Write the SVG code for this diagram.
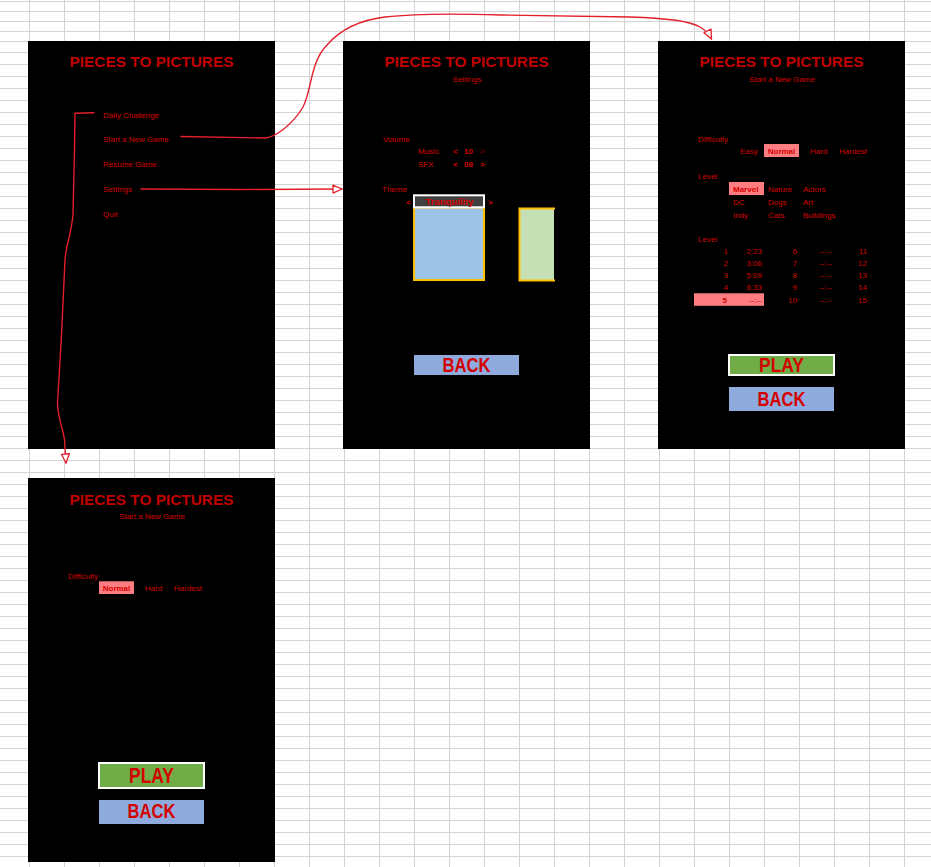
<svg xmlns="http://www.w3.org/2000/svg" width="931" height="867" viewBox="0 0 931 867">
<style>
.panel{fill:#000}
.title{font-family:"Liberation Sans",Arial,sans-serif;font-weight:bold;font-size:15.5px;fill:#c00000;text-anchor:middle}
.t{font-family:"Liberation Sans",Arial,sans-serif;font-size:8px;fill:#d40000}
.b{font-weight:bold}
.m{text-anchor:middle}
.e{text-anchor:end}
.dim{fill:#6b0000}
.hl{fill:#ff7c80}
.btn{font-family:"Liberation Sans",Arial,sans-serif;font-weight:bold;font-size:20px;fill:#d40000;text-anchor:middle}
.conn{fill:none;stroke:#e41e2a;stroke-width:1.4;stroke-linecap:round;stroke-linejoin:round}
</style>
<defs>
<pattern id="g1" patternUnits="userSpaceOnUse" x="29" y="52" width="35" height="12">
<path d="M0,0.5H35M0.5,0V12" stroke="#d4d4d4" stroke-width="1" fill="none"/>
</pattern>
<pattern id="g0" patternUnits="userSpaceOnUse" x="29" y="1" width="35" height="10">
<path d="M0,0.5H35M0.5,0V10" stroke="#d4d4d4" stroke-width="1" fill="none"/>
</pattern>
<marker id="ah" markerUnits="userSpaceOnUse" markerWidth="12" markerHeight="12" refX="9" refY="4" orient="auto" viewBox="-1 -1 12 10">
<path d="M0,0L9,4L0,8Z" fill="#fff" stroke="#e41e2a" stroke-width="1.3" stroke-linejoin="round"/>
</marker>
</defs>
<rect width="931" height="867" fill="#fff"/>
<rect x="0" y="0" width="931" height="47" fill="url(#g0)"/>
<rect x="0" y="47" width="931" height="820" fill="url(#g1)"/>

<g id="main-menu">
<rect class="panel" x="28" y="41" width="247" height="408"/>
<text class="title" x="151.5" y="66.5" textLength="164" lengthAdjust="spacingAndGlyphs">PIECES TO PICTURES</text>
<text class="t" x="103" y="118">Daily Challenge</text>
<text class="t" x="103" y="142">Start a New Game</text>
<text class="t" x="103" y="167">Resume Game</text>
<text class="t" x="103" y="192">Settings</text>
<text class="t" x="103" y="217">Quit</text>
</g>

<g id="settings">
<rect class="panel" x="343" y="41" width="247" height="408"/>
<text class="title" x="466.5" y="66.5" textLength="164" lengthAdjust="spacingAndGlyphs">PIECES TO PICTURES</text>
<text class="t m" x="467" y="82">Settings</text>
<text class="t" x="383" y="142">Volume</text>
<text class="t" x="418" y="154">Music</text>
<text class="t b" x="453" y="154">&lt;</text>
<text class="t b" x="464" y="154">10</text>
<text class="t b dim" x="480" y="154">&gt;</text>
<text class="t" x="418" y="167">SFX</text>
<text class="t b" x="453" y="167">&lt;</text>
<text class="t b" x="464" y="167">08</text>
<text class="t b" x="480" y="167">&gt;</text>
<text class="t" x="382" y="192">Theme</text>
<text class="t b" x="406" y="205">&lt;</text>
<text class="t b" x="488" y="205">&gt;</text>
<rect x="414" y="207.5" width="70" height="72.5" fill="#9dc3e6" stroke="#ffc000" stroke-width="2"/>
<rect x="414" y="195.3" width="70" height="12" fill="#404040" stroke="#fff" stroke-width="2"/>
<text class="t b m" x="449.5" y="205" style="font-size:9px" textLength="48" lengthAdjust="spacingAndGlyphs">Tranquility</text>
<rect x="519.5" y="208.5" width="34.5" height="72" fill="#c5e0b4"/>
<path d="M555,208.5H519.5V280.5H555" fill="none" stroke="#ffc000" stroke-width="2"/>
<rect x="414" y="355" width="105" height="20" fill="#8faadc"/>
<text class="btn" x="466.5" y="371.5" textLength="48" lengthAdjust="spacingAndGlyphs">BACK</text>
</g>

<g id="new-game">
<rect class="panel" x="658" y="41" width="247" height="408"/>
<text class="title" x="781.5" y="66.5" textLength="164" lengthAdjust="spacingAndGlyphs">PIECES TO PICTURES</text>
<text class="t m" x="782" y="82">Start a New Game</text>
<text class="t" x="698" y="142">Difficulty</text>
<text class="t" x="740" y="154">Easy</text>
<rect class="hl" x="764" y="144" width="35" height="13"/>
<text class="t b m" x="781.5" y="154">Normal</text>
<text class="t" x="810" y="154">Hard</text>
<text class="t" x="839" y="154">Hardest</text>
<text class="t" x="698" y="179">Level</text>
<rect class="hl" x="729" y="182" width="35" height="13"/>
<text class="t b" x="733" y="192">Marvel</text>
<text class="t" x="768" y="192">Nature</text>
<text class="t" x="803" y="192">Actors</text>
<text class="t" x="733" y="205">DC</text>
<text class="t" x="768" y="205">Dogs</text>
<text class="t" x="803" y="205">Art</text>
<text class="t" x="733" y="218">Indy</text>
<text class="t" x="768" y="218">Cats</text>
<text class="t" x="803" y="218">Buildings</text>
<text class="t" x="698" y="242">Level</text>
<rect class="hl" x="694" y="293.3" width="70" height="12.5"/>
<g class="t">
<text class="t e" x="728" y="253.5">1</text><text class="t e" x="762" y="253.5">2:23</text><text class="t e" x="797" y="253.5">6</text><text class="t" x="819" y="253.5">--:--</text><text class="t e" x="867" y="253.5">11</text>
<text class="t e" x="728" y="265.7">2</text><text class="t e" x="762" y="265.7">3:06</text><text class="t e" x="797" y="265.7">7</text><text class="t" x="819" y="265.7">--:--</text><text class="t e" x="867" y="265.7">12</text>
<text class="t e" x="728" y="278">3</text><text class="t e" x="762" y="278">5:09</text><text class="t e" x="797" y="278">8</text><text class="t" x="819" y="278">--:--</text><text class="t e" x="867" y="278">13</text>
<text class="t e" x="728" y="290.3">4</text><text class="t e" x="762" y="290.3">6:33</text><text class="t e" x="797" y="290.3">9</text><text class="t" x="819" y="290.3">--:--</text><text class="t e" x="867" y="290.3">14</text>
<text class="t e b" x="727" y="302.5">5</text><text class="t e" x="762" y="302.5">--:--</text><text class="t e" x="797" y="302.5">10</text><text class="t" x="819" y="302.5">--:--</text><text class="t e" x="867" y="302.5">15</text>
</g>
<rect x="729" y="355" width="105" height="20" fill="#70ad47" stroke="#fff" stroke-width="2"/>
<text class="btn" x="781.5" y="372" textLength="45" lengthAdjust="spacingAndGlyphs">PLAY</text>
<rect x="729" y="387" width="105" height="24" fill="#8faadc"/>
<text class="btn" x="781.5" y="405.5" textLength="48" lengthAdjust="spacingAndGlyphs">BACK</text>
</g>

<g id="daily-challenge">
<rect class="panel" x="28" y="478" width="247" height="384"/>
<text class="title" x="151.5" y="504.5" textLength="164" lengthAdjust="spacingAndGlyphs">PIECES TO PICTURES</text>
<text class="t m" x="152" y="519">Start a New Game</text>
<text class="t" x="68" y="579">Difficulty</text>
<rect class="hl" x="99" y="581.3" width="35" height="12.7"/>
<text class="t b m" x="116.5" y="591">Normal</text>
<text class="t" x="145" y="591">Hard</text>
<text class="t" x="174" y="591">Hardest</text>
<rect x="99" y="763" width="105" height="25" fill="#70ad47" stroke="#fff" stroke-width="2"/>
<text class="btn" x="151.5" y="782.5" style="font-size:22px" textLength="45" lengthAdjust="spacingAndGlyphs">PLAY</text>
<rect x="99" y="800" width="105" height="24" fill="#8faadc"/>
<text class="btn" x="151.5" y="818" textLength="48" lengthAdjust="spacingAndGlyphs">BACK</text>
</g>

<g id="connectors">
<path class="conn" marker-end="url(#ah)" d="M181,136.5L265,138C276,137 293,124 303,107C312,90 310,62 327,45C340,30 360,20 385,17C420,13 470,14 500,15L630,17C665,18 690,21 700,27C705,30 709,34 711.5,39"/>
<path class="conn" marker-end="url(#ah)" d="M141,189L240,189.5L342,189"/>
<path class="conn" marker-end="url(#ah)" d="M94,112.7L75,113.3L74.5,150L73,215C71,235 66,245 65,260L61.5,335L57.5,403C58,420 63,428 64.5,440L66,463"/>
</g>
</svg>
